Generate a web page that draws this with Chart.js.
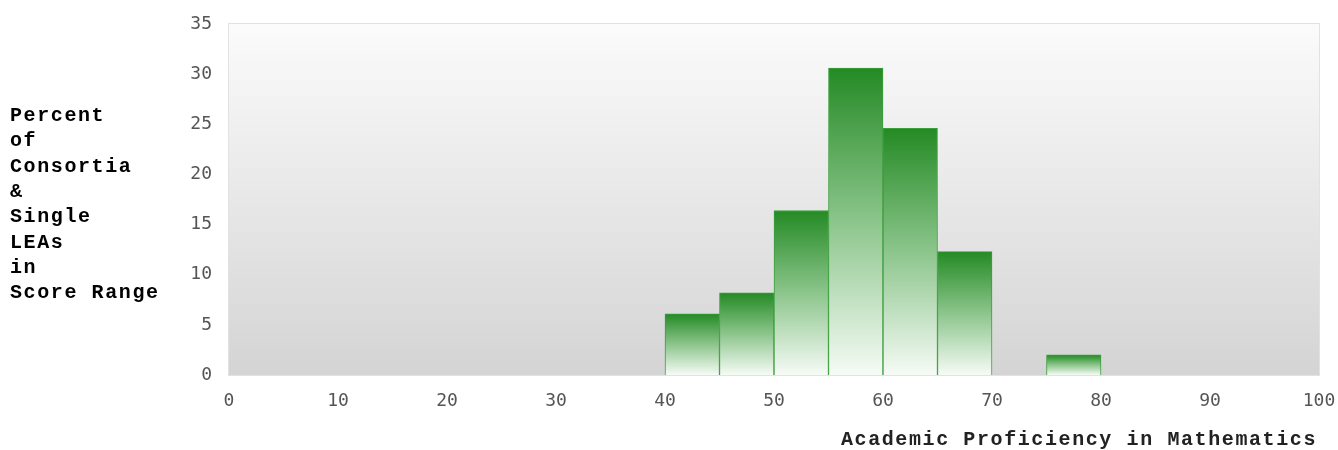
<!DOCTYPE html>
<html>
<head>
<meta charset="utf-8">
<script src="https://cdn.jsdelivr.net/npm/chart.js@4"></script>
<style>
  html, body { margin: 0; padding: 0; background: #fff; }
  #wrap { width: 1338px; height: 450px; }
</style>
</head>
<body>
<div id="wrap"><canvas id="histo"></canvas></div>
<script>
// bins of 5 points, value = percent of consortia & single LEAs in range
const binCenters = [2.5, 7.5, 12.5, 17.5, 22.5, 27.5, 32.5, 37.5, 42.5, 47.5,
                    52.5, 57.5, 62.5, 67.5, 72.5, 77.5, 82.5, 87.5, 92.5, 97.5];
const percents   = [0, 0, 0, 0, 0, 0, 0, 0, 6.1, 8.2,
                    16.4, 30.6, 24.6, 12.3, 0, 2.0, 0, 0, 0, 0];
const yTitle = ['Percent', 'of', 'Consortia', '&', 'Single', 'LEAs', 'in', 'Score Range'];
const xTitle = 'Academic Proficiency in Mathematics';

const titleFont = 'bold 20px "Liberation Mono"';
const tickFont = { family: 'DejaVu Sans Mono', size: 18 };

// plot background + hand drawn axis titles
const decor = {
  id: 'decor',
  beforeDatasetsDraw(chart) {
    const { ctx, chartArea: a } = chart;
    ctx.save();
    const g = ctx.createLinearGradient(0, a.top, 0, a.bottom);
    g.addColorStop(0, '#fbfbfb');
    g.addColorStop(1, '#d4d4d4');
    ctx.fillStyle = g;
    ctx.fillRect(a.left, a.top, a.right - a.left, a.bottom - a.top);
    ctx.strokeStyle = '#e2e2e2';
    ctx.lineWidth = 1;
    ctx.strokeRect(a.left - 0.5, a.top - 0.5, a.right - a.left + 1, a.bottom - a.top + 1);
    ctx.restore();
  },
  afterDraw(chart) {
    const { ctx, chartArea: a } = chart;
    ctx.save();
    ctx.font = titleFont;
    ctx.fillStyle = '#000';
    ctx.letterSpacing = '1.6px';
    ctx.textBaseline = 'alphabetic';
    ctx.textAlign = 'left';
    yTitle.forEach((t, i) => ctx.fillText(t, 10, 121 + i * 25.3));
    ctx.textAlign = 'right';
    ctx.fillStyle = '#222';
    ctx.fillText(xTitle, a.right - 2, 445);
    ctx.restore();
  }
};

function barFill(context) {
  const chart = context.chart;
  const { ctx, scales } = chart;
  const v = context.parsed ? context.parsed.y : 0;
  const top = scales.y.getPixelForValue(v);
  const bottom = scales.y.getPixelForValue(0);
  if (!isFinite(top) || top === bottom) return '#2a8c2a';
  const g = ctx.createLinearGradient(0, top, 0, bottom);
  g.addColorStop(0, '#248a24');
  g.addColorStop(0.5, '#8cc58c');
  g.addColorStop(1, '#f6fbf6');
  return g;
}

new Chart(document.getElementById('histo'), {
  type: 'bar',
  data: {
    datasets: [{
      data: binCenters.map((x, i) => ({ x: x, y: percents[i] })),
      backgroundColor: barFill,
      borderColor: '#3a9e3a',
      borderWidth: 1,
      barPercentage: 1,
      categoryPercentage: 1,
      grouped: false
    }]
  },
  options: {
    responsive: true,
    maintainAspectRatio: false,
    animation: false,
    layout: { padding: { top: 24, right: 19, left: 0, bottom: 0 } },
    plugins: {
      legend: { display: false },
      tooltip: { enabled: false }
    },
    scales: {
      x: {
        type: 'linear',
        min: 0,
        max: 100,
        offset: false,
        grid: { display: false, drawTicks: false },
        border: { display: false },
        ticks: { stepSize: 10, color: '#555', font: tickFont, padding: 16, maxRotation: 0 },
        afterFit(scale) {
          scale.height = 450 - 375;
          scale.paddingLeft = 0;
          scale.paddingRight = 0;
        }
      },
      y: {
        min: 0,
        max: 35,
        grid: { display: false, drawTicks: false },
        border: { display: false },
        ticks: { stepSize: 5, color: '#555', font: tickFont, padding: 17 },
        afterFit(scale) {
          scale.width = 229;
          scale.paddingTop = 0;
          scale.paddingBottom = 0;
        }
      }
    }
  },
  plugins: [decor]
});
</script>
</body>
</html>
